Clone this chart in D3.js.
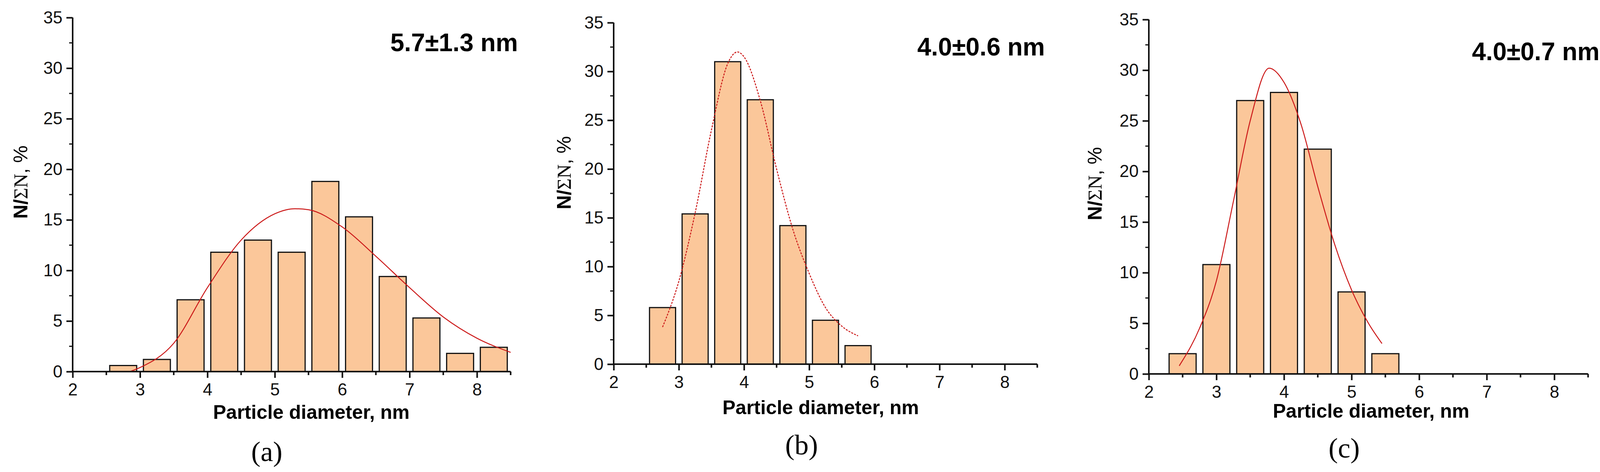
<!DOCTYPE html>
<html><head><meta charset="utf-8">
<script src="https://cdn.jsdelivr.net/npm/d3@7"></script>
<style>body{margin:0;background:#fff}svg{display:block}</style>
</head><body>
<svg id="c" width="4131" height="1208"></svg>
<script>
// ---- data ----
const xTicks = [2,3,4,5,6,7,8];
const yTicks = [0,5,10,15,20,25,30,35];
const labels = ["5.7±1.3 nm","4.0±0.6 nm","4.0±0.7 nm"];
const panelTags = ["(a)","(b)","(c)"];
const binsA = [2.75,3.25,3.75,4.25,4.75,5.25,5.75,6.25,6.75,7.25,7.75,8.25];
const valsA = [0.6,1.2,7.1,11.8,13.0,11.8,18.8,15.3,9.4,5.3,1.8,2.4];
const binsB = [2.75,3.25,3.75,4.25,4.75,5.25,5.75];
const valsB = [5.8,15.4,31.0,27.1,14.2,4.5,1.9];
const binsC = [2.5,3.0,3.5,4.0,4.5,5.0,5.5];
const valsC = [2.0,10.8,27.0,27.8,22.2,8.1,2.0];
const fitAx = [2.85,3.0,3.5,4.0,4.5,5.0,5.3,5.5,6.0,6.5,7.0,7.5,8.0,8.5];
const fitAy = [0,0.4,2.8,8.3,13.0,15.6,16.1,16.0,14.3,11.4,8.3,5.4,3.3,1.9];
const fitBx = [2.75,3.0,3.25,3.5,3.75,3.9,4.0,4.25,4.5,4.75,5.0,5.25,5.5,5.75];
const fitBy = [3.8,8.5,15.5,24.0,30.8,32.0,31.5,27.0,20.0,13.8,9.3,5.8,3.9,2.9];
const fitCx = [2.45,2.75,3.0,3.25,3.5,3.78,4.0,4.25,4.5,4.75,5.0,5.25,5.45];
const fitCy = [0.8,4.5,9.2,17.0,25.0,30.2,28.8,24.7,18.5,12.8,8.3,5.0,3.0];

const panels = [
 {bins:binsA, vals:valsA, fx:fitAx, fy:fitAy, dash:null,
  x0:186, x8:1221, y0:951, y35:45, lblX:1326, lblY:131, xtX:797, xtY:1072, ytX:54, ytY:466, tagX:683, tagY:1180},
 {bins:binsB, vals:valsB, fx:fitBx, fy:fitBy, dash:"5,3",
  x0:1571, x8:2572, y0:932, y35:58, lblX:2675, lblY:142, xtX:2101, xtY:1060, ytX:1445, ytY:442, tagX:2052, tagY:1163},
 {bins:binsC, vals:valsC, fx:fitCx, fy:fitCy, dash:null,
  x0:2941, x8:3979, y0:957, y35:50, lblX:4095, lblY:154, xtX:3510, xtY:1069, ytX:2804, ytY:470, tagX:3441, tagY:1171}
];

const svg = d3.select("#c");
const sans = "Liberation Sans, Arial, sans-serif";
panels.forEach((p,i)=>{
  const x = d3.scaleLinear().domain([2,8]).range([p.x0,p.x8]);
  const y = d3.scaleLinear().domain([0,35]).range([p.y0,p.y35]);
  const g = svg.append("g");
  g.selectAll("rect.bar").data(p.bins).join("rect")
    .attr("x", d=>x(d-0.2)).attr("width", d=>x(d+0.2)-x(d-0.2))
    .attr("y", (d,j)=>y(p.vals[j])).attr("height",(d,j)=>y(0)-y(p.vals[j]))
    .attr("fill","#fbc79a").attr("stroke","#111").attr("stroke-width",3);
  const line = d3.line().x(d=>x(d[0])).y(d=>y(d[1])).curve(d3.curveMonotoneX);
  g.append("path").datum(p.fx.map((v,j)=>[v,p.fy[j]])).attr("d",line)
    .attr("fill","none").attr("stroke","#cc1a1a").attr("stroke-width",2.5)
    .attr("stroke-dasharray",p.dash);
  const xAx = g.append("g").attr("transform",`translate(0,${y(0)})`)
    .call(d3.axisBottom(x).tickValues(xTicks).tickSize(16).tickPadding(14).tickFormat(d3.format("d")));
  xAx.select(".domain").attr("d",`M${x(2)},0H${x(8.5)}`);
  const yAx = g.append("g").attr("transform",`translate(${x(2)},0)`)
    .call(d3.axisLeft(y).tickValues(yTicks).tickSize(16).tickPadding(10));
  yAx.select(".domain").attr("d",`M0,${y(0)}V${y(35)}`);
  [xAx,yAx].forEach(a=>{
    a.selectAll("path,line").attr("stroke","#111").attr("stroke-width",4);
    a.selectAll("text").attr("font-family",sans).attr("font-size",44).attr("fill","#111");
  });
  const mx = d3.range(2.5,8.6,1);
  g.selectAll("line.mx").data(mx).join("line").attr("x1",d=>x(d)).attr("x2",d=>x(d))
    .attr("y1",y(0)).attr("y2",y(0)+9).attr("stroke","#111").attr("stroke-width",4);
  const my = d3.range(2.5,35,5);
  g.selectAll("line.my").data(my).join("line").attr("y1",d=>y(d)).attr("y2",d=>y(d))
    .attr("x1",x(2)).attr("x2",x(2)-9).attr("stroke","#111").attr("stroke-width",3);
  g.append("text").attr("x",p.lblX).attr("y",p.lblY).attr("text-anchor","end")
    .attr("font-family",sans).attr("font-weight","bold").attr("font-size",64).text(labels[i]);
  g.append("text").attr("x",p.xtX).attr("y",p.xtY).attr("text-anchor","middle")
    .attr("font-family",sans).attr("font-weight","bold").attr("font-size",50).text("Particle diameter, nm");
  const yt = g.append("text").attr("transform",`translate(${p.ytX+16},${p.ytY}) rotate(-90)`)
    .attr("text-anchor","middle").attr("font-size",50);
  yt.append("tspan").attr("font-family",sans).attr("font-weight","bold").text("N/");
  yt.append("tspan").attr("font-family","Liberation Serif, Times New Roman, serif").text("ΣN");
  yt.append("tspan").attr("font-family",sans).text(", %");
  g.append("text").attr("x",p.tagX).attr("y",p.tagY).attr("text-anchor","middle")
    .attr("font-family","Liberation Serif, Times New Roman, serif").attr("font-size",72).text(panelTags[i]);
});
</script>
</body></html>
